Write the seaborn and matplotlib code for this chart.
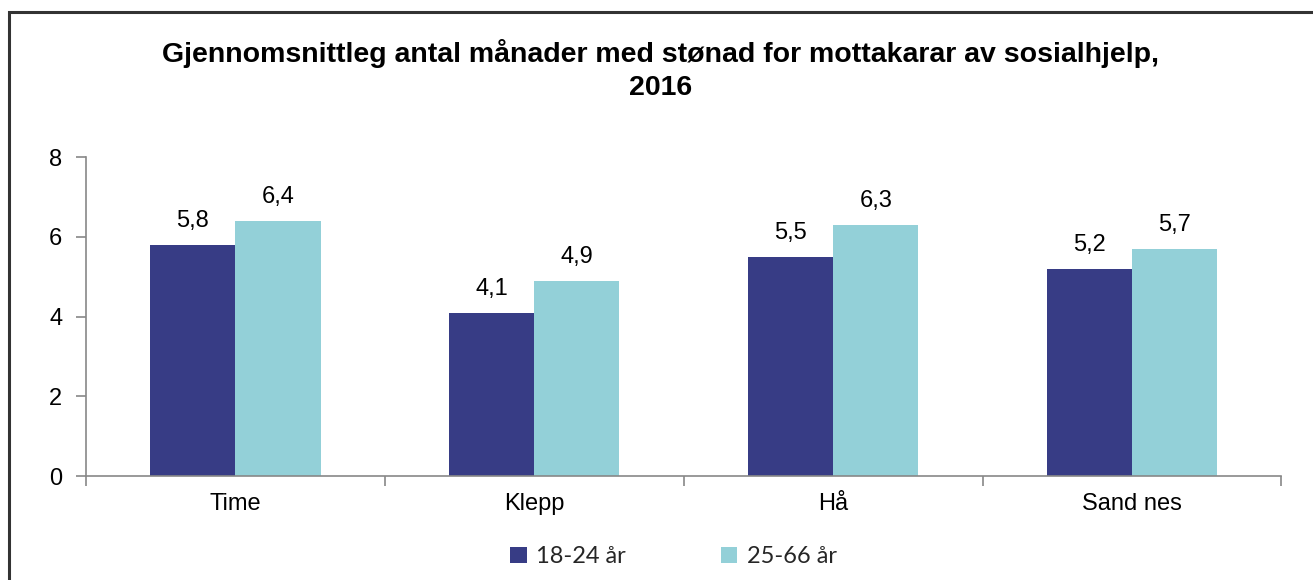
import matplotlib
matplotlib.use("Agg")
import matplotlib.pyplot as plt
import seaborn as sns
import pandas as pd
from matplotlib.patches import Rectangle
from matplotlib.ticker import FixedLocator

# data
kommunar = ["Time", "Klepp", "Hå", "Sand nes"]
alder_18_24 = [5.8, 4.1, 5.5, 5.2]
alder_25_66 = [6.4, 4.9, 6.3, 5.7]
grupper = ["18-24 år", "25-66 år"]
farger = ["#373C85", "#93D0D8"]

df = pd.DataFrame({
    "kommune": kommunar * 2,
    "gruppe": [grupper[0]] * 4 + [grupper[1]] * 4,
    "verdi": alder_18_24 + alder_25_66,
})

sns.set_theme(style="white")
plt.rcParams["font.family"] = ["Liberation Sans", "DejaVu Sans"]

fig = plt.figure(figsize=(13.13, 5.8), dpi=100)
ax = fig.add_axes([0.0655, 0.179, 0.9105, 0.55])

sns.barplot(data=df, x="kommune", y="verdi", hue="gruppe", order=kommunar,
            hue_order=grupper, palette=farger, width=0.57, gap=0,
            saturation=1, linewidth=0, ax=ax, legend=True)

for cont in ax.containers:
    ax.bar_label(cont, labels=[f"{v:.1f}".replace(".", ",") for v in cont.datavalues],
                 padding=9, fontsize=17, color="black")

ax.set_xlim(-0.5, 3.5)
ax.set_ylim(0, 8)
ax.set_yticks([0, 2, 4, 6, 8])
ax.set_xlabel("")
ax.set_ylabel("")
ax.tick_params(axis="y", labelsize=17, labelcolor="black", length=7,
               color="#888888", width=1.2, left=True, pad=10)
ax.tick_params(axis="x", which="major", labelsize=17, labelcolor="black",
               length=0, pad=12)
ax.xaxis.set_minor_locator(FixedLocator([-0.5, 0.5, 1.5, 2.5, 3.5]))
ax.tick_params(axis="x", which="minor", bottom=True, length=7,
               color="#888888", width=1.2)
for s in ["top", "right"]:
    ax.spines[s].set_visible(False)
for s in ["left", "bottom"]:
    ax.spines[s].set_color("#888888")
    ax.spines[s].set_linewidth(1.2)

fig.suptitle("Gjennomsnittleg antal månader med stønad for mottakarar av sosialhjelp,\n2016",
             x=0.503, y=0.932, fontsize=20.5, fontweight="bold", color="black",
             linespacing=1.35)

handles, labels = ax.get_legend_handles_labels()
ax.legend(handles, labels, loc="center", bbox_to_anchor=(0.513, 0.04),
          bbox_transform=fig.transFigure, ncol=2, frameon=False,
          prop={"family": "Lato", "size": 17}, handlelength=0.7,
          handleheight=0.7, columnspacing=4.0, handletextpad=0.4)

# chart frame (only top/left visible in crop)
fig.patches.append(Rectangle((9 / 1313, -0.1), 1.2, 0.1 + (580 - 12) / 580,
                             transform=fig.transFigure, fill=False,
                             edgecolor="#333333", linewidth=2.2))

fig.savefig("out.png", dpi=100)
